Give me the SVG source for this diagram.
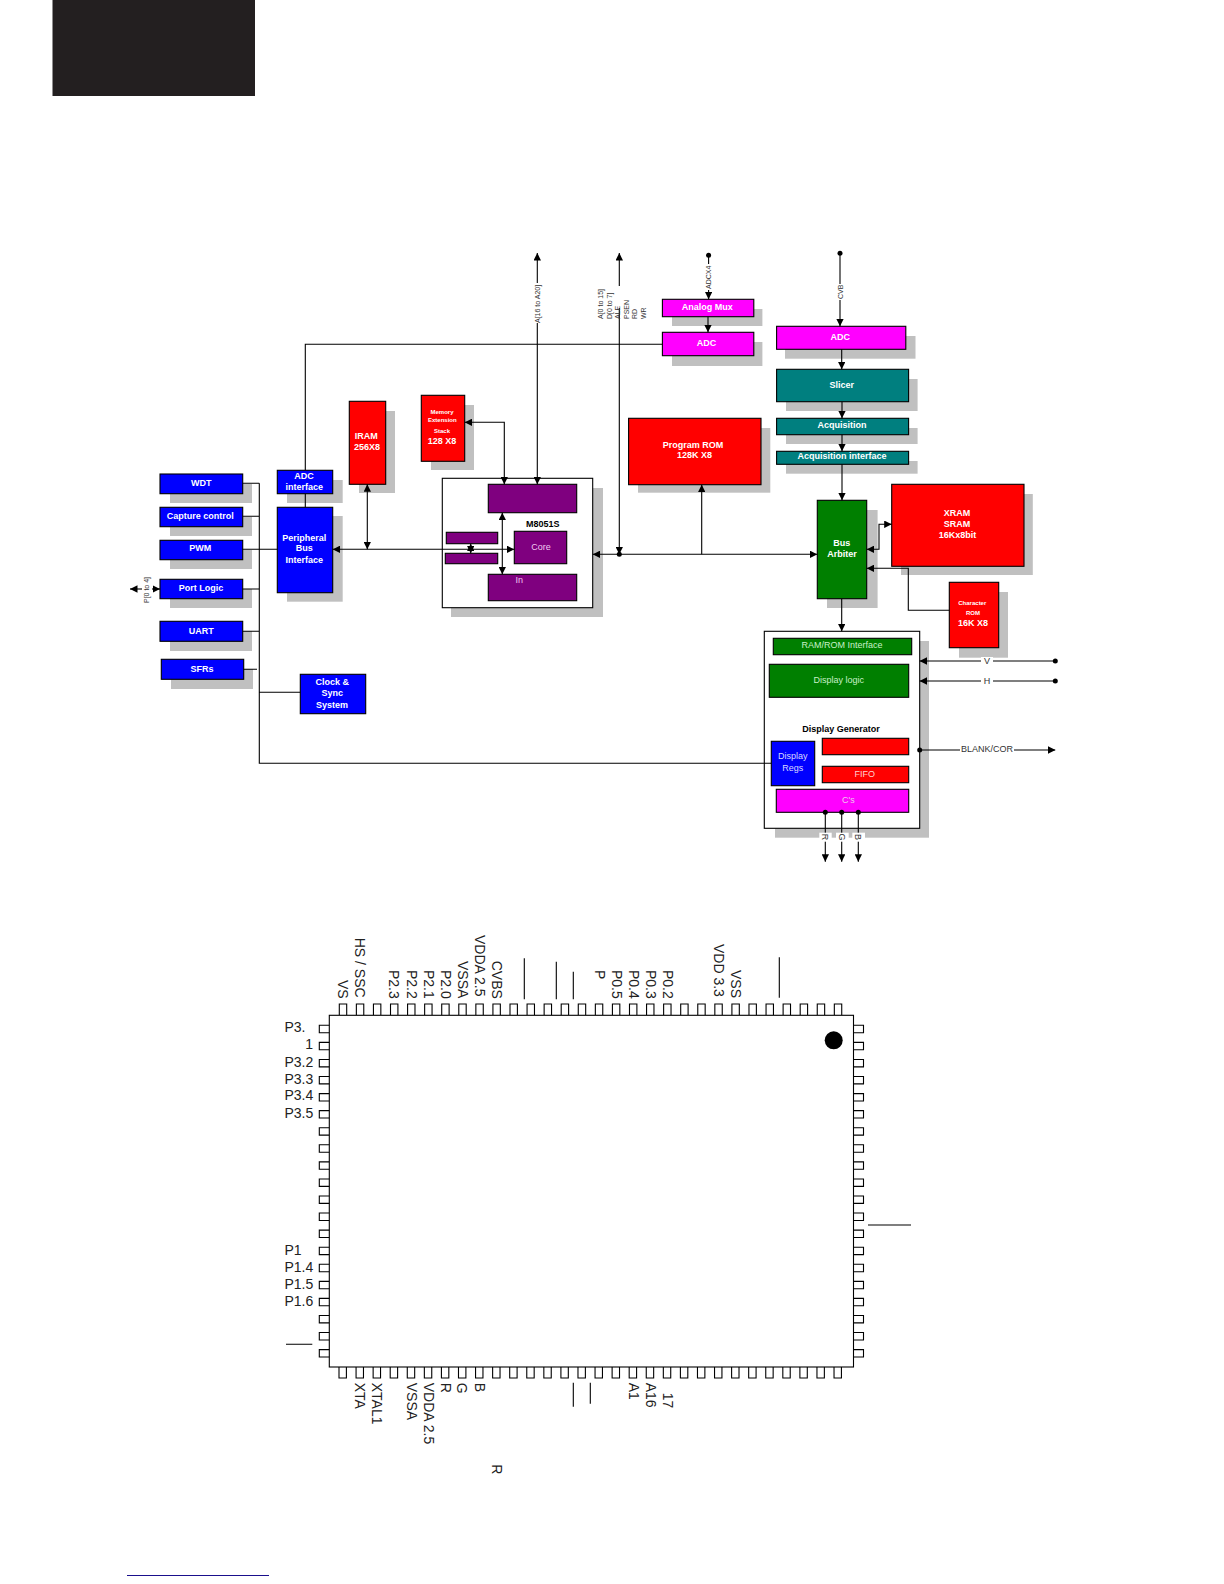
<svg xmlns="http://www.w3.org/2000/svg" width="1224" height="1584" viewBox="0 0 1224 1584">
<style>
text{font-family:"Liberation Sans",Arial,sans-serif;fill:#fff;text-anchor:middle}
.b{font-weight:bold;font-size:9px}
.n{font-size:9px}
.s{font-weight:bold;font-size:6px}
.k{fill:#000}
.p{fill:#f0c8f0}
.g{fill:#c8f0c8}
.t{fill:#333;font-size:7px}
.c{fill:#222;font-size:14px}
.c0{text-anchor:start}
.sh{fill:#c0c0c0;stroke:none}
.r,.bl,.gr,.te,.ma,.pu,.wh{stroke:#000;stroke-width:1.1}
.r{fill:#f00}.bl{fill:#00f}.gr{fill:#007f00}.te{fill:#007f7f}.ma{fill:#f0f}.pu{fill:#7f007f}.wh{fill:#fff}
.l{fill:none;stroke:#000;stroke-width:1.1}
.a{marker-end:url(#ah)}
.aa{marker-start:url(#ahs);marker-end:url(#ah)}
.pin{fill:none;stroke:#000;stroke-width:1.1}
</style>
<defs>
<marker id="ah" viewBox="0 0 6 6" refX="6" refY="3" markerWidth="7.5" markerHeight="7.5" markerUnits="userSpaceOnUse" orient="auto"><path d="M0 0L6 3L0 6Z" fill="#000"/></marker>
<marker id="ahs" viewBox="0 0 6 6" refX="0" refY="3" markerWidth="7.5" markerHeight="7.5" markerUnits="userSpaceOnUse" orient="auto"><path d="M6 0L0 3L6 6Z" fill="#000"/></marker>
</defs>
<rect id="corner-block" x="52.5" y="0" width="202.5" height="96" fill="#231f20"/>
<path id="footer-rule" d="M127 1575.5H269" stroke="#1a0f8c" stroke-width="1" fill="none"/>

<g id="wdt"><rect class="sh" x="170" y="484" width="82" height="19"/><rect class="bl" x="160" y="474" width="82.7" height="19.7"/><text class="b" x="201.3" y="486">WDT</text></g>
<g id="capture"><rect class="sh" x="170" y="517" width="82" height="19"/><rect class="bl" x="160" y="507.3" width="82.7" height="19.4"/><text class="b" x="200.3" y="519">Capture control</text></g>
<g id="pwm"><rect class="sh" x="170" y="550" width="82" height="19"/><rect class="bl" x="160" y="540.3" width="82.7" height="19.4"/><text class="b" x="200.3" y="551">PWM</text></g>
<g id="port-logic"><rect class="sh" x="170" y="589" width="82" height="19"/><rect class="bl" x="160" y="579.3" width="82.7" height="19.4"/><text class="b" x="201" y="591">Port Logic</text></g>
<g id="uart"><rect class="sh" x="170" y="631" width="82" height="20"/><rect class="bl" x="160" y="621.3" width="82.7" height="20"/><text class="b" x="201.3" y="634">UART</text></g>
<g id="sfrs"><rect class="sh" x="171" y="669" width="82" height="20"/><rect class="bl" x="161.3" y="659.3" width="82.4" height="20"/><text class="b" x="202" y="672">SFRs</text></g>
<g id="adc-interface"><rect class="sh" x="287" y="480" width="55.7" height="23"/><rect class="bl" x="277.3" y="470.3" width="55.4" height="23.4"/><text class="b" x="304" y="478.7">ADC</text><text class="b" x="304.3" y="490">interface</text></g>
<g id="peripheral"><rect class="sh" x="287" y="516" width="55.7" height="85.7"/><rect class="bl" x="277.3" y="507.3" width="55.4" height="85.4"/><text class="b" x="304.3" y="541">Peripheral</text><text class="b" x="304.3" y="551">Bus</text><text class="b" x="304.3" y="563">Interface</text></g>
<g id="clock"><rect class="bl" x="300.3" y="674.3" width="65.4" height="39.4"/><text class="b" x="332.3" y="685">Clock &amp;</text><text class="b" x="332.3" y="696">Sync</text><text class="b" x="332" y="708">System</text></g>
<g id="iram"><rect class="sh" x="359" y="411" width="36" height="82"/><rect class="r" x="349.3" y="401.3" width="36.4" height="83"/><text class="b" x="366.3" y="438.7">IRAM</text><text class="b" x="367" y="449.7">256X8</text></g>
<g id="memory"><rect class="sh" x="431" y="405" width="43" height="65"/><rect class="r" x="421.3" y="395.3" width="43.4" height="66"/><text class="s" x="442" y="413.7">Memory</text><text class="s" x="442.3" y="421.7">Extension</text><text class="s" x="442" y="432.7">Stack</text><text class="b" x="442" y="443.7">128 X8</text></g>
<g id="m8051"><rect class="sh" x="451" y="488" width="152" height="129"/><rect class="wh" x="442.3" y="478.3" width="150.4" height="129.4"/>
<rect class="pu" x="488.3" y="484.3" width="88.4" height="28.4"/>
<rect class="pu" x="514.3" y="531.3" width="52.4" height="32.4"/>
<rect class="pu" x="488.3" y="574.3" width="88.4" height="26.4"/>
<rect class="pu" x="446.3" y="532.3" width="51.4" height="11.4"/>
<rect class="pu" x="445.3" y="553.3" width="52.4" height="10.4"/>
<text class="b k" x="542.7" y="526.7">M8051S</text><text class="n p" x="541" y="550">Core</text><text class="n p" x="519.3" y="582.7">In</text></g>
<g id="analog-mux"><rect class="sh" x="672" y="309" width="90.4" height="17"/><rect class="ma" x="662.4" y="299.3" width="91.4" height="17.4"/><text class="b" x="707.2" y="309.7">Analog Mux</text></g>
<g id="adc-a"><rect class="sh" x="672" y="342" width="90.4" height="24"/><rect class="ma" x="662.4" y="332.3" width="91.4" height="23.4"/><text class="b" x="706.6" y="345.7">ADC</text></g>
<g id="adc-b"><rect class="sh" x="785" y="336" width="130.5" height="22.7"/><rect class="ma" x="776.6" y="326.3" width="129.2" height="23"/><text class="b" x="840.3" y="339.7">ADC</text></g>
<g id="slicer"><rect class="sh" x="786" y="379" width="131.6" height="32"/><rect class="te" x="776.6" y="369.3" width="132" height="32.4"/><text class="b" x="841.7" y="387.7">Slicer</text></g>
<g id="acquisition"><rect class="sh" x="786" y="428" width="131.6" height="16"/><rect class="te" x="776.6" y="418.3" width="132" height="16.4"/><text class="b" x="842" y="428">Acquisition</text></g>
<g id="acquisition-interface"><rect class="sh" x="786" y="461" width="131.6" height="12.7"/><rect class="te" x="776.6" y="451.3" width="132" height="13"/><text class="b" x="842" y="459">Acquisition interface</text></g>
<g id="program-rom"><rect class="sh" x="638" y="428" width="132.3" height="64.7"/><rect class="r" x="628.6" y="418.3" width="132.4" height="66.4"/><text class="b" x="693" y="447.7">Program ROM</text><text class="b" x="694.5" y="457.7">128K X8</text></g>
<g id="bus-arbiter"><rect class="sh" x="827" y="510" width="50.6" height="98"/><rect class="gr" x="817.3" y="500.3" width="49.4" height="98.4"/><text class="b" x="841.7" y="545.7">Bus</text><text class="b" x="842" y="556.7">Arbiter</text></g>
<g id="xram"><rect class="sh" x="901" y="494" width="131.8" height="81"/><rect class="r" x="891.7" y="484.3" width="132.3" height="82"/><text class="b" x="956.9" y="515.7">XRAM</text><text class="b" x="956.9" y="526.7">SRAM</text><text class="b" x="957.6" y="537.7">16Kx8bit</text></g>
<g id="char-rom"><rect class="sh" x="959" y="592" width="49" height="65.7"/><rect class="r" x="949.3" y="582.3" width="49.4" height="65.4"/><text class="s" x="972.3" y="605.3">Character</text><text class="s" x="973" y="615.3">ROM</text><text class="b" x="973" y="626.3">16K X8</text></g>
<g id="display-generator"><rect class="sh" x="775" y="641" width="154" height="196.7"/><rect class="wh" x="764.3" y="631.3" width="155.4" height="197"/>
<rect class="gr" x="773.3" y="638.3" width="138.4" height="16.4"/><text class="n g" x="842" y="647.7">RAM/ROM Interface</text>
<rect class="gr" x="769.3" y="664.3" width="139.4" height="33"/><text class="n g" x="838.7" y="682.7">Display logic</text>
<text class="b k" x="841" y="731.7">Display Generator</text>
<rect class="bl" x="771.3" y="741.3" width="43.4" height="44.4"/><text class="n" x="792.7" y="758.7" style="fill:#d8d8ff">Display</text><text class="n" x="792.7" y="770.7" style="fill:#d8d8ff">Regs</text>
<rect class="r" x="822.3" y="738.3" width="86.4" height="16.4"/>
<rect class="r" x="822.3" y="766.3" width="86.4" height="16.4"/><text class="n" x="864.7" y="776.7" style="fill:#ffd0d0">FIFO</text>
<rect class="ma" x="776.3" y="789.3" width="132.4" height="23"/><text class="n p" x="848.3" y="802.7">C's</text></g>

<g id="connectors">
<path class="l" d="M242.7 483.3H259.3M242.7 516.3H259.3M242.7 549.3H277.3M242.7 589H259.3M242.7 631.3H259.3M243.7 669.3H257M259.3 692.3H300.3M259.3 483.3V763.3H771.3"/>
<path class="l" d="M305.3 470.3V344.3H662.4M305.3 493.7V507.3"/>
<path class="l aa" d="M332.7 549.3H514.3"/>
<path class="l aa" d="M367.3 484.3V549.3"/>
<path class="l aa" d="M464.7 422.3H504.3V484.3"/>
<path class="l aa" d="M537.3 253V484.3"/>
<path class="l aa" d="M502.3 512.7V574.3"/>
<path class="l aa" d="M470.7 543.7V553.3"/>
<path class="l aa" d="M592.7 554.3H817.3"/>
<path class="l a" d="M701.7 554.3V484.7"/>
<path class="l aa" d="M619.3 253V554.3"/>
<circle cx="619.3" cy="554.3" r="2.5"/>
<path class="l a" d="M708.6 255.3V299.3"/><circle cx="708.6" cy="255.3" r="2.5"/>
<path class="l a" d="M708 316.7V332.3"/>
<path class="l a" d="M840 253.3V326.3"/><circle cx="840" cy="253.3" r="2.5"/>
<path class="l a" d="M841.7 349.3V369.3"/>
<path class="l a" d="M842 401.7V418.3"/>
<path class="l a" d="M842 434.7V451.3"/>
<path class="l a" d="M842 464.3V500.3"/>
<path class="l aa" d="M866.7 549.3H879V524.3H891.7"/>
<path class="l a" d="M949.3 610.3H908.3V568.3H866.7"/>
<path class="l a" d="M841.7 598.7V631.3"/>
<path class="l a" d="M1055.3 661H919.7"/><circle cx="1055.3" cy="661" r="2.5"/>
<path class="l a" d="M1055.3 681H919.7"/><circle cx="1055.3" cy="681" r="2.5"/>
<path class="l a" d="M919.7 750H1055.3"/><circle cx="919.7" cy="750" r="2.5"/>
<path class="l a" d="M825.3 812.3V861.7"/><circle cx="825.3" cy="812.3" r="2.5"/>
<path class="l a" d="M841.7 812.3V861.7"/><circle cx="841.7" cy="812.3" r="2.5"/>
<path class="l a" d="M858.3 812.3V861.7"/><circle cx="858.3" cy="812.3" r="2.5"/>
<path class="l aa" d="M130 589H160"/>
<rect x="533" y="283" width="8" height="40" fill="#fff"/>
<text class="t" transform="translate(539.8,323) rotate(-90)" style="text-anchor:start">A[16 to A20]</text>
<rect x="704" y="264" width="9" height="26" fill="#fff"/>
<text class="t" transform="translate(711,289) rotate(-90)" style="text-anchor:start">ADCX4</text>
<rect x="836" y="284" width="8" height="16" fill="#fff"/>
<text class="t" transform="translate(842.5,299) rotate(-90)" style="text-anchor:start">CVB</text>
<rect x="615" y="286" width="8" height="22" fill="#fff"/>
<text class="t" transform="translate(603,319) rotate(-90)" style="text-anchor:start">A[0 to 15]</text>
<text class="t" transform="translate(611.5,319) rotate(-90)" style="text-anchor:start">D[0 to 7]</text>
<text class="t" transform="translate(620,319) rotate(-90)" style="text-anchor:start">ALE</text>
<text class="t" transform="translate(628.5,319) rotate(-90)" style="text-anchor:start">PSEN</text>
<text class="t" transform="translate(637,319) rotate(-90)" style="text-anchor:start">RD</text>
<text class="t" transform="translate(645.5,319) rotate(-90)" style="text-anchor:start">WR</text>
<rect x="142" y="576" width="10" height="27" fill="#fff"/>
<text class="t" transform="translate(149.2,590) rotate(-90)">P[0 to 4]</text>
<rect x="981" y="657" width="12" height="8" fill="#fff"/>
<text class="t" x="987" y="663.5" style="font-size:9px">V</text>
<rect x="981" y="677" width="12" height="8" fill="#fff"/>
<text class="t" x="987" y="683.5" style="font-size:9px">H</text>
<rect x="960" y="745" width="54" height="10" fill="#fff"/>
<text class="t" x="987" y="751.8" style="font-size:9px">BLANK/COR</text>
<rect x="819.3" y="832.7" width="12.4" height="9" fill="#fff"/>
<rect x="836" y="832.7" width="12.7" height="9" fill="#fff"/>
<rect x="852.3" y="832.7" width="12.7" height="9" fill="#fff"/>
<text class="t" transform="translate(822.3,837) rotate(90)" style="font-size:9px">R</text>
<text class="t" transform="translate(838.7,837) rotate(90)" style="font-size:9px">G</text>
<text class="t" transform="translate(855.3,837) rotate(90)" style="font-size:9px">B</text>
</g>

<g id="chip">
<rect x="329.3" y="1015.3" width="524.2" height="351.7" fill="#fff" stroke="#000" stroke-width="1.1"/>
<path class="pin" d="M339.3 1015v-11h7.4v11m9.67 0v-11h7.4v11m9.67 0v-11h7.4v11m9.67 0v-11h7.4v11m9.67 0v-11h7.4v11m9.67 0v-11h7.4v11m9.67 0v-11h7.4v11m9.67 0v-11h7.4v11m9.67 0v-11h7.4v11m9.67 0v-11h7.4v11m9.67 0v-11h7.4v11m9.67 0v-11h7.4v11m9.67 0v-11h7.4v11m9.67 0v-11h7.4v11m9.67 0v-11h7.4v11m9.67 0v-11h7.4v11m9.67 0v-11h7.4v11m9.67 0v-11h7.4v11m9.67 0v-11h7.4v11m9.67 0v-11h7.4v11m9.67 0v-11h7.4v11m9.67 0v-11h7.4v11m9.67 0v-11h7.4v11m9.67 0v-11h7.4v11m9.67 0v-11h7.4v11m9.67 0v-11h7.4v11m9.67 0v-11h7.4v11m9.67 0v-11h7.4v11m9.67 0v-11h7.4v11m9.67 0v-11h7.4v11"/>
<path class="pin" d="M339 1367v11h7.4v-11m9.67 0v11h7.4v-11m9.67 0v11h7.4v-11m9.67 0v11h7.4v-11m9.67 0v11h7.4v-11m9.67 0v11h7.4v-11m9.67 0v11h7.4v-11m9.67 0v11h7.4v-11m9.67 0v11h7.4v-11m9.67 0v11h7.4v-11m9.67 0v11h7.4v-11m9.67 0v11h7.4v-11m9.67 0v11h7.4v-11m9.67 0v11h7.4v-11m9.67 0v11h7.4v-11m9.67 0v11h7.4v-11m9.67 0v11h7.4v-11m9.67 0v11h7.4v-11m9.67 0v11h7.4v-11m9.67 0v11h7.4v-11m9.67 0v11h7.4v-11m9.67 0v11h7.4v-11m9.67 0v11h7.4v-11m9.67 0v11h7.4v-11m9.67 0v11h7.4v-11m9.67 0v11h7.4v-11m9.67 0v11h7.4v-11m9.67 0v11h7.4v-11m9.67 0v11h7.4v-11m9.67 0v11h7.4v-11"/>
<path class="pin" d="M329.3 1025.3h-10v7.4h10m0 9.67h-10v7.4h10m0 9.67h-10v7.4h10m0 9.67h-10v7.4h10m0 9.67h-10v7.4h10m0 9.67h-10v7.4h10m0 9.67h-10v7.4h10m0 9.67h-10v7.4h10m0 9.67h-10v7.4h10m0 9.67h-10v7.4h10m0 9.67h-10v7.4h10m0 9.67h-10v7.4h10m0 9.67h-10v7.4h10m0 9.67h-10v7.4h10m0 9.67h-10v7.4h10m0 9.67h-10v7.4h10m0 9.67h-10v7.4h10m0 9.67h-10v7.4h10m0 9.67h-10v7.4h10m0 9.67h-10v7.4h10"/>
<path class="pin" d="M853.5 1025.3h10v7.4h-10m0 9.67h10v7.4h-10m0 9.67h10v7.4h-10m0 9.67h10v7.4h-10m0 9.67h10v7.4h-10m0 9.67h10v7.4h-10m0 9.67h10v7.4h-10m0 9.67h10v7.4h-10m0 9.67h10v7.4h-10m0 9.67h10v7.4h-10m0 9.67h10v7.4h-10m0 9.67h10v7.4h-10m0 9.67h10v7.4h-10m0 9.67h10v7.4h-10m0 9.67h10v7.4h-10m0 9.67h10v7.4h-10m0 9.67h10v7.4h-10m0 9.67h10v7.4h-10m0 9.67h10v7.4h-10m0 9.67h10v7.4h-10"/>
<circle cx="833.7" cy="1040.3" r="9"/>
<path class="l" d="M524.3 958.3V999.3M556.3 961.7V999.3M573.3 971.7V999.3M779.3 957.3V997.7M868 1225H911M286 1344.3H312.3M573.3 1382.7V1406.7M590.3 1382.7V1403.7"/>
<g>
<text class="c c0" transform="translate(338.3,980) rotate(90)">VS</text>
<text class="c c0" transform="translate(355.3,937.7) rotate(90)">HS / SSC</text>
<text class="c c0" transform="translate(389.3,970) rotate(90)">P2.3</text>
<text class="c c0" transform="translate(407,970) rotate(90)">P2.2</text>
<text class="c c0" transform="translate(423.7,970) rotate(90)">P2.1</text>
<text class="c c0" transform="translate(440.7,970) rotate(90)">P2.0</text>
<text class="c c0" transform="translate(457.7,961) rotate(90)">VSSA</text>
<text class="c c0" transform="translate(475,935) rotate(90)">VDDA 2.5</text>
<text class="c c0" transform="translate(491.7,960.7) rotate(90)">CVBS</text>
<text class="c c0" transform="translate(595,970) rotate(90)">P</text>
<text class="c c0" transform="translate(611.7,970) rotate(90)">P0.5</text>
<text class="c c0" transform="translate(629,970) rotate(90)">P0.4</text>
<text class="c c0" transform="translate(645.7,970) rotate(90)">P0.3</text>
<text class="c c0" transform="translate(662.7,970) rotate(90)">P0.2</text>
<text class="c c0" transform="translate(713.7,944) rotate(90)">VDD 3.3</text>
<text class="c c0" transform="translate(731.3,970) rotate(90)">VSS</text>
<text class="c c0" x="284.4" y="1032">P3.</text>
<text class="c" x="313" y="1049.3" style="text-anchor:end">1</text>
<text class="c c0" x="284.4" y="1066.7">P3.2</text>
<text class="c c0" x="284.4" y="1083.7">P3.3</text>
<text class="c c0" x="284.4" y="1100.3">P3.4</text>
<text class="c c0" x="284.4" y="1117.7">P3.5</text>
<text class="c c0" x="284.4" y="1255">P1</text>
<text class="c c0" x="284.4" y="1271.7">P1.4</text>
<text class="c c0" x="284.4" y="1288.7">P1.5</text>
<text class="c c0" x="284.4" y="1305.7">P1.6</text>
<text class="c c0" transform="translate(355.3,1382.7) rotate(90)">XTA</text>
<text class="c c0" transform="translate(371.7,1382.7) rotate(90)">XTAL1</text>
<text class="c c0" transform="translate(406.7,1382.7) rotate(90)">VSSA</text>
<text class="c c0" transform="translate(423.7,1382.7) rotate(90)">VDDA 2.5</text>
<text class="c c0" transform="translate(440.7,1382.7) rotate(90)">R</text>
<text class="c c0" transform="translate(457.3,1382.7) rotate(90)">G</text>
<text class="c c0" transform="translate(474.7,1382.7) rotate(90)">B</text>
<text class="c c0" transform="translate(628.7,1382.7) rotate(90)">A1</text>
<text class="c c0" transform="translate(645.7,1382.7) rotate(90)">A16</text>
<text class="c c0" transform="translate(662.7,1392.7) rotate(90)">17</text>
<text class="c c0" transform="translate(491.7,1464.3) rotate(90)">R</text>
</g>
</g>
</svg>
